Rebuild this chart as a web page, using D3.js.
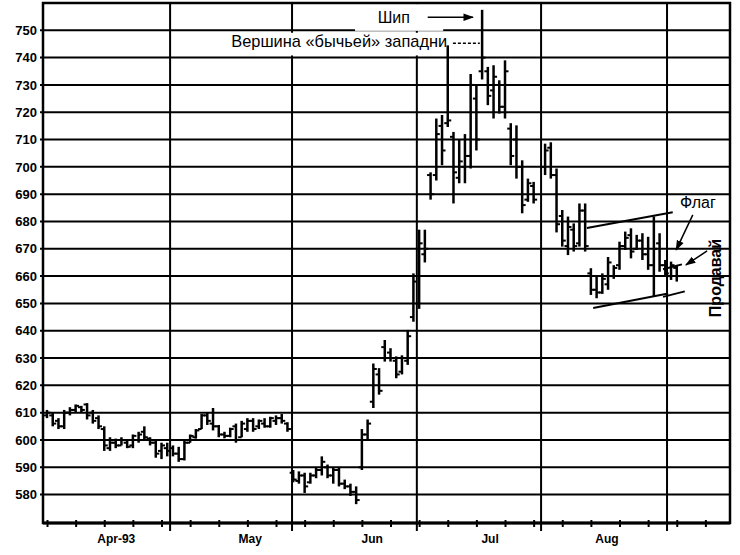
<!DOCTYPE html>
<html><head><meta charset="utf-8">
<script src="https://cdn.jsdelivr.net/npm/d3@7"></script>
<style>body{margin:0;background:#fff}svg{display:block}</style>
</head><body><svg id="c" width="740" height="555"></svg>
<script>
// ---- data ----
const dayIdx = [0,1,2,3,4,5,6,7,8,9,10,11,12,13,14,15,16,17,18,19,20,21,
  22,23,24,25,26,27,28,29,30,31,32,33,34,35,36,37,38,39,40,41,42,
  43,44,45,46,47,48,49,50,51,52,53,54,55,56,57,58,59,60,61,62,63,64,
  65,66,67,68,69,70,71,72,73,74,75,76,77,78,79,80,81,82,83,84,85,
  87,88,89,90,91,92,93,94,95,96,97,98,99,100,101,102,103,104,105,106,107,108,109,110];
const opens = [609,609,607,605,610,611,612,613,610,608,604,597,599,598,599,598,600,603,600.5,599,596,597,
  597,595,593,599,601,604,609,606,605,602,601.5,605,601,604,607,605,606,605,607,608,606,
  588,585,587,584.5,587,589,590,587,589,584,583,581,590,602,614,624,634,632,629,625,629,645,
  650,668,697,697,715,716,711,696,700,704,725,735,735,728,730,722,714,710,700,688,693,
  700,707,697,682,671,677,672,684,661,655,654,657,660,664,671,675,670,673,668,664,672,664,660,663];
const highs = [611,610,608,611,612,613,612.5,613.5,611,609,605,601,600.5,601,600,602,603,605,601,600,599,599,
  598,597.5,600,602,604,609.5,610,611.7,605.5,603,604.5,606,607,608,608,607.5,608,608.5,609,609.5,606.5,
  589,588.5,588,588,590,594,591,590,590,585.5,584,583,604,607.5,628,626.3,636.6,633.6,630.6,631,640.3,661,
  677,677,698,717.7,719,744.5,712.8,710,712,734,730,757.5,736.6,737.2,731.7,739,716,715.2,702.4,695.7,694.5,
  708.5,709,699.4,684.2,681.8,679.3,686.6,686.6,662.9,659.8,661,667,664,672.6,676.3,677.5,675.1,675.7,674.4,681.8,675.7,665.9,665.3,664.1];
const lows = [608,605,604,604,609,610,610,607.5,606,604,596,596,597,598,597,597,599,600,598,593.5,593,594,
  594,592,592.5,599,600.5,604,605.5,603.5,601,600.6,601,599,601,603,603,604,604.5,604.5,605.5,606,603,
  584.5,584,580.6,584,586,587,586,584,583,582,579.5,576.5,589,600,611.7,616.6,628.7,628.7,622.6,624,627.5,643.3,
  648,665,688,695,700.6,714.6,686.6,694,694,699.4,706,732,722.6,717.7,719.5,717.7,700.6,695.7,683,687.2,686.6,
  697,695.7,676,670.8,667.7,669,670.8,669,653.1,651.9,653.5,655,659,662.3,669.6,666.5,669.6,665.9,662.3,652.5,661.6,659.8,658.6,658];
const closes = [610,606,605,610,611,612.5,611,609,607,605,598,599,598,600,597.5,601.5,602,601,599,595,598,596,
  595,593,599,601.5,603.5,609,607,605,602,601.5,604,600,606,607,604,607,605,608,608,607,604,
  585.5,587,583,587,589,592,587,589,584,583,581,578,602,606,626,618,630,630,624,630,638,658,
  672,670,690,712,706,717,698,702,704,730,710,740,726,733,722,735,704,700,686,694,688,
  706,697,679,673,678,671,684,671,655,654,659,665,663,671,674,669,673,668,664,670,664,661,664,660];

const priceTicks = [580,590,600,610,620,630,640,650,660,670,680,690,700,710,720,730,740,750];
const weekTicks = [0,5,10,15,20,25,30,35,40,45,50,55,60,65,70,75,80,85,90,95,100,105,110,115];
const monthBounds = [21.5,42.8,64.6,86.3,108.3];
const monthLabels = ["Apr-93","May","Jun","Jul","Aug"];
const monthLabelPos = [12.1,35.5,56.8,77.4,97.8];

// annotation anchors in data coordinates [dayIndex, price]
const flagUpper = [[94.3,677.6],[109.3,683.4]];
const flagLower = [[95.4,648.3],[108.5,653.6]];
const smallUpper = [[107.6,662.5],[110.9,664.3]];
const smallLower = [[107.6,652.4],[111.4,654.4]];

// ---- scales ----
const W = 740, H = 555;
const x = d3.scaleLinear().domain([-0.7,119.3]).range([43,730]);
const y = d3.scaleLinear().domain([569.6,760]).range([523,3]);
const svg = d3.select("#c");
svg.append("rect").attr("width",W).attr("height",H).attr("fill","#fff");

const defs = svg.append("defs");
defs.append("marker").attr("id","ah").attr("viewBox","0 0 10 10").attr("refX",9).attr("refY",5)
  .attr("markerWidth",7).attr("markerHeight",7).attr("orient","auto")
  .append("path").attr("d","M0,1.5L10,5L0,8.5Z").attr("fill","#000");

const X0 = x.range()[0], X1 = x.range()[1], Y0 = y.range()[0], Y1 = y.range()[1];

// horizontal grid
svg.append("g").selectAll("line").data(priceTicks).join("line")
  .attr("x1",X0-3).attr("x2",X1).attr("y1",d=>y(d)).attr("y2",d=>y(d))
  .attr("stroke","#000").attr("stroke-width",2);
// month lines
svg.append("g").selectAll("line").data(monthBounds).join("line")
  .attr("x1",d=>x(d)).attr("x2",d=>x(d)).attr("y1",Y1).attr("y2",Y0+8)
  .attr("stroke","#000").attr("stroke-width",2);

// white boxes behind annotation labels
svg.append("rect").attr("x",x(53.8)).attr("y",y(759.6)).attr("width",x(69.2)-x(53.8)).attr("height",y(749.8)-y(759.6)).attr("fill","#fff");
svg.append("rect").attr("x",x(31.4)).attr("y",y(749.1)).attr("width",x(70.2)-x(31.4)).attr("height",y(740.8)-y(749.1)).attr("fill","#fff");

// frame
svg.append("rect").attr("x",X0).attr("y",Y1).attr("width",X1-X0).attr("height",Y0-Y1)
  .attr("fill","none").attr("stroke","#000").attr("stroke-width",2.5);
svg.append("line").attr("x1",X0).attr("x2",X1).attr("y1",Y0).attr("y2",Y0).attr("stroke","#000").attr("stroke-width",3);

// y axis labels
const yAxis = d3.axisLeft(y).tickValues(priceTicks).tickSize(0).tickPadding(6).tickFormat(d3.format("d"));
const ga = svg.append("g").attr("transform",`translate(${X0},0)`).call(yAxis);
ga.select(".domain").remove();
ga.selectAll("text").attr("font-family","Liberation Sans, Arial, sans-serif").attr("font-size",13).attr("font-weight","bold").attr("fill","#000");

// x axis ticks
const xAxis = d3.axisBottom(x).tickValues(weekTicks).tickSize(4).tickFormat("");
const gx = svg.append("g").attr("transform",`translate(0,${Y0})`).call(xAxis);
gx.select(".domain").remove();
gx.selectAll(".tick line").attr("y1",-3).attr("stroke","#000").attr("stroke-width",2);
svg.append("g").selectAll("text").data(monthLabels).join("text")
  .attr("x",(d,i)=>x(monthLabelPos[i])).attr("y",Y0+20).attr("text-anchor","middle")
  .attr("font-family","Liberation Sans, Arial, sans-serif").attr("font-size",12).attr("font-weight","bold")
  .text(d=>d);

// OHLC bars
const bars = svg.append("g").attr("stroke","#000").attr("stroke-width",2.5);
dayIdx.forEach((d,i)=>{
  const cx = x(d);
  bars.append("line").attr("x1",cx).attr("x2",cx).attr("y1",y(highs[i])).attr("y2",y(lows[i]));
  bars.append("line").attr("x1",cx-3.5).attr("x2",cx).attr("y1",y(opens[i])).attr("y2",y(opens[i])).attr("stroke-width",2);
  bars.append("line").attr("x1",cx).attr("x2",cx+3.5).attr("y1",y(closes[i])).attr("y2",y(closes[i])).attr("stroke-width",2);
});

// flag lines
const line = d3.line().x(d=>x(d[0])).y(d=>y(d[1]));
[flagUpper,flagLower,smallUpper,smallLower].forEach(p=>{
  svg.append("path").attr("d",line(p)).attr("stroke","#000").attr("stroke-width",2).attr("fill","none");
});

const font = "Liberation Sans, Arial, sans-serif";
// spike
svg.append("text").attr("x",x(63.4)).attr("y",y(752.6)).attr("text-anchor","end")
  .attr("font-family",font).attr("font-size",16).text("Шип");
svg.append("line").attr("x1",x(66.5)).attr("x2",x(74.4)).attr("y1",y(754.8)).attr("y2",y(754.8))
  .attr("stroke","#000").attr("stroke-width",1.5).attr("marker-end","url(#ah)");
// bull trap top
svg.append("text").attr("x",x(69.9)).attr("y",y(743.8)).attr("text-anchor","end")
  .attr("font-family",font).attr("font-size",16.4).text("Вершина «бычьей» западни");
svg.append("line").attr("x1",x(70.9)).attr("x2",x(75.6)).attr("y1",y(745.3)).attr("y2",y(745.3))
  .attr("stroke","#000").attr("stroke-width",1.5).attr("stroke-dasharray","3,2");
// flag
svg.append("text").attr("x",x(113.7)).attr("y",y(684.9)).attr("text-anchor","middle")
  .attr("font-family",font).attr("font-size",16).text("Флаг");
svg.append("line").attr("x1",x(112.8)).attr("y1",y(682.4)).attr("x2",x(109.9)).attr("y2",y(669.6))
  .attr("stroke","#000").attr("stroke-width",1.5).attr("marker-end","url(#ah)");
svg.append("line").attr("x1",x(115.3)).attr("y1",y(669.2)).attr("x2",x(111.6)).attr("y2",y(664.1))
  .attr("stroke","#000").attr("stroke-width",1.5).attr("marker-end","url(#ah)");
svg.append("text").attr("transform",`translate(${x(116.9)+5},${y(659.3)}) rotate(-90)`).attr("text-anchor","middle")
  .attr("font-family",font).attr("font-size",16).attr("font-weight","bold").text("Продавай");
</script></body></html>
